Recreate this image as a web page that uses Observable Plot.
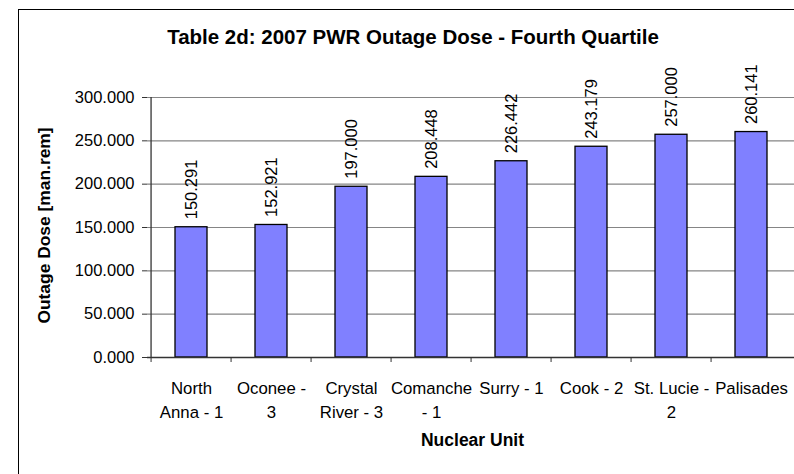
<!DOCTYPE html>
<html>
<head>
<meta charset="utf-8">
<script src="https://cdn.jsdelivr.net/npm/d3@7"></script>
<script src="https://cdn.jsdelivr.net/npm/@observablehq/plot@0.6"></script>
<style>
  html, body { margin: 0; padding: 0; background: #fff; overflow: hidden; }
  #wrap { position: relative; width: 794px; height: 474px; overflow: hidden; font-family: "Liberation Sans", Arial, sans-serif; }
  #frame { position: absolute; left: 18px; top: 9px; width: 900px; height: 600px; border-left: 1px solid #000; border-top: 1px solid #000; }
  #title { position: absolute; left: 113px; width: 600px; top: 26.5px; text-align: center; font-weight: bold; font-size: 20.5px; line-height: 1; color: #000; white-space: nowrap; }
  #chart { position: absolute; left: 0; top: 0; }
</style>
</head>
<body>
<div id="wrap">
  <div id="frame"></div>
  <div id="chart"></div>
  <div id="title">Table 2d: 2007 PWR Outage Dose - Fourth Quartile</div>
</div>
<script>
const units = ["North\nAnna - 1", "Oconee -\n3", "Crystal\nRiver - 3", "Comanche\n- 1", "Surry - 1", "Cook - 2", "St. Lucie -\n2", "Palisades"];
const doses = [150.291, 152.921, 197.000, 208.448, 226.442, 243.179, 257.000, 260.141];
const yTicks = [0, 50, 100, 150, 200, 250, 300];
const yTitle = "Outage Dose [man.rem]";
const xTitle = "Nuclear Unit";

const data = units.map((u, i) => ({unit: u, dose: doses[i]}));
const fmt = d3.format(".3f");
const W = 794, H = 474, mL = 147, mR = 0;
const step = (W - mL - mR) / units.length;

const chart = Plot.plot({
  width: W,
  height: H,
  marginLeft: mL,
  marginRight: mR,
  marginTop: 97,
  marginBottom: 117,
  style: {fontFamily: "'Liberation Sans', Arial, sans-serif", background: "transparent", color: "#000"},
  x: {domain: units, paddingInner: 0.6, paddingOuter: 0.3, axis: null},
  y: {domain: [0, 300], axis: null},
  marks: [
    Plot.ruleY(yTicks.filter(d => d > 0), {stroke: "#858585", strokeWidth: 1.2}),
    Plot.barY(data, {x: "unit", y: "dose", fill: "#8080FF", stroke: "#000", strokeWidth: 1.3}),
    Plot.ruleY([0], {stroke: "#333", strokeWidth: 1.3}),
    Plot.ruleX([units[0]], {dx: -step / 2, stroke: "#333", strokeWidth: 1.3}),
    Plot.axisY({ticks: yTicks, tickSize: 5, tickPadding: 8, tickFormat: fmt, fontSize: 16.5, label: null, stroke: "#333"}),
    Plot.axisX({tickSize: 5, tickFormat: () => "", dx: -step / 2, label: null, stroke: "#333"}),
    Plot.axisX({tickSize: 0, tickPadding: 20, fontSize: 16.8, lineHeight: 1.4, label: null}),
    Plot.text(data, {x: "unit", y: "dose", text: d => fmt(d.dose), rotate: -90, textAnchor: "start", dy: -8, fontSize: 16.5, fill: "#000"}),
    Plot.text([yTitle], {frameAnchor: "left", textAnchor: "middle", lineAnchor: "middle", dx: -103, dy: -2, rotate: -90, text: d => d, fontWeight: "bold", fontSize: 17.4, fill: "#000"}),
    Plot.text([xTitle], {frameAnchor: "bottom", textAnchor: "middle", lineAnchor: "middle", dy: 83, dx: 1.5, text: d => d, fontWeight: "bold", fontSize: 17.5, fill: "#000"})
  ]
});
document.getElementById("chart").appendChild(chart);
</script>
</body>
</html>
